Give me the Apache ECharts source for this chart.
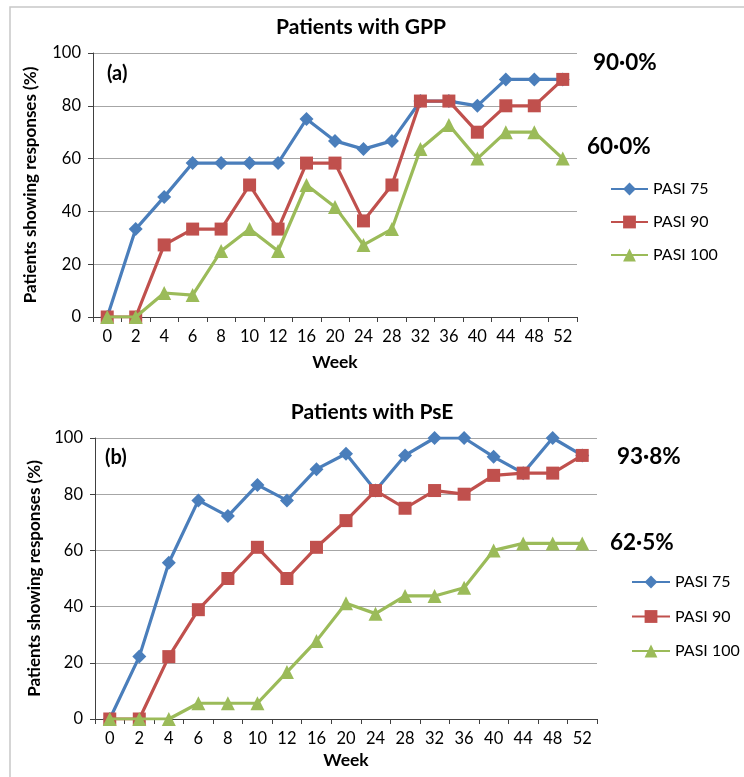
<!DOCTYPE html>
<html>
<head>
<meta charset="utf-8">
<script src="https://cdn.jsdelivr.net/npm/echarts@6/dist/echarts.min.js"></script>
<style>
html,body{margin:0;padding:0;background:#fff;}
#chart{width:744px;height:777px;}
</style>
</head>
<body>
<div id="chart"></div>
<script>
var weeks = ['0','2','4','6','8','10','12','16','20','24','28','32','36','40','44','48','52'];
var yTicks = [0, 20, 40, 60, 80, 100];
var seriesNames = ['PASI 75', 'PASI 90', 'PASI 100'];

var gppPasi75  = [0, 33.3, 45.5, 58.3, 58.3, 58.3, 58.3, 75, 66.7, 63.6, 66.7, 81.8, 81.8, 80, 90, 90, 90];
var gppPasi90  = [0, 0, 27.3, 33.3, 33.3, 50, 33.3, 58.3, 58.3, 36.4, 50, 81.8, 81.8, 70, 80, 80, 90];
var gppPasi100 = [0, 0, 9.1, 8.3, 25, 33.3, 25, 50, 41.7, 27.3, 33.3, 63.6, 72.7, 60, 70, 70, 60];

var psePasi75  = [0, 22.2, 55.6, 77.8, 72.2, 83.3, 77.8, 88.9, 94.4, 81.3, 93.8, 100, 100, 93.3, 87.5, 100, 93.8];
var psePasi90  = [0, 0, 22.2, 38.9, 50, 61.1, 50, 61.1, 70.6, 81.3, 75, 81.3, 80, 86.7, 87.5, 87.5, 93.8];
var psePasi100 = [0, 0, 0, 5.6, 5.6, 5.6, 16.7, 27.8, 41.2, 37.5, 43.8, 43.8, 46.7, 60, 62.5, 62.5, 62.5];

var titles = ['Patients with GPP', 'Patients with PsE'];
var panelLabels = ['(a)', '(b)'];
var annotations = [['90·0%', '60·0%'], ['93·8%', '62·5%']];
var xName = 'Week';
var yName = 'Patients showing responses (%)';

var FONT = 'Lato, "Open Sans", sans-serif';
var colors = ['#4A7EBB', '#C0504D', '#9BBB59'];
var symbols = ['diamond', 'rect', 'triangle'];
var symbolSizes = [14, 13, 14];

function makeX(gi, nameGap) {
  return {
    type: 'category', gridIndex: gi, data: weeks, boundaryGap: true,
    name: xName, nameLocation: 'middle', nameGap: nameGap,
    nameTextStyle: {fontFamily: FONT, fontSize: 17.5, fontWeight: 'bold', color: '#000'},
    axisLine: {show: true, lineStyle: {color: '#404040', width: 1}},
    axisTick: {show: true, interval: 0, alignWithLabel: false, length: 5, lineStyle: {color: '#404040'}},
    axisLabel: {interval: 0, margin: 11, fontFamily: FONT, fontSize: 16.5, color: '#000'},
    splitLine: {show: false}
  };
}
function makeY(gi, nameGap) {
  return {
    type: 'value', gridIndex: gi, min: yTicks[0], max: yTicks[yTicks.length - 1], interval: yTicks[1] - yTicks[0],
    name: yName, nameLocation: 'middle', nameGap: nameGap, nameRotate: 90,
    nameTextStyle: {fontFamily: FONT, fontSize: 17, fontWeight: 'bold', color: '#000'},
    axisLine: {show: true, lineStyle: {color: '#404040', width: 1}},
    axisTick: {show: true, length: 5, lineStyle: {color: '#404040'}},
    axisLabel: {margin: 12, fontFamily: FONT, fontSize: 16.5, color: '#000'},
    splitLine: {show: true, lineStyle: {color: '#A6A6A6', width: 1}}
  };
}
function makeSeries(gi, arrays) {
  return arrays.map(function (arr, i) {
    return {
      name: seriesNames[i], type: 'line', xAxisIndex: gi, yAxisIndex: gi, data: arr,
      symbol: symbols[i], symbolSize: symbolSizes[i], showAllSymbol: true,
      lineStyle: {color: colors[i], width: 3.2},
      itemStyle: {color: colors[i]},
      z: 2 + i, animation: false
    };
  });
}

var chart = echarts.init(document.getElementById('chart'), null, {renderer: 'canvas'});
var option = {
  backgroundColor: '#fff',
  animation: false,
  color: colors,
  grid: [
    {left: 93, right: 167, top: 53, height: 264},
    {left: 95, right: 147, top: 438, height: 281}
  ],
  xAxis: [makeX(0, 36), makeX(1, 32)],
  yAxis: [makeY(0, 54), makeY(1, 46)],
  legend: [
    {orient: 'vertical', left: 605, top: 176, itemWidth: 37, itemHeight: 16, itemGap: 17,
      data: seriesNames, textStyle: {fontFamily: FONT, fontSize: 16, color: '#000'}, selectedMode: false},
    {orient: 'vertical', left: 626, top: 569, itemWidth: 38, itemHeight: 16, itemGap: 18.5,
      data: seriesNames, textStyle: {fontFamily: FONT, fontSize: 16, color: '#000'}, selectedMode: false}
  ],
  series: makeSeries(0, [gppPasi75, gppPasi90, gppPasi100]).concat(makeSeries(1, [psePasi75, psePasi90, psePasi100])),
  graphic: [
    {type: 'polyline', shape: {points: [[10, 777], [10, 7], [744, 7]]}, style: {stroke: '#C8C8C8', lineWidth: 1.5, fill: null}, silent: true},
    {type: 'text', x: 361, y: 27, style: {text: titles[0], align: 'center', verticalAlign: 'middle', font: 'bold 21px ' + FONT, fill: '#000'}},
    {type: 'text', x: 372, y: 412, style: {text: titles[1], align: 'center', verticalAlign: 'middle', font: 'bold 21px ' + FONT, fill: '#000'}},
    {type: 'text', x: 107, y: 74, style: {text: panelLabels[0], align: 'left', verticalAlign: 'middle', font: 'bold 20px ' + FONT, fill: '#000'}},
    {type: 'text', x: 105, y: 458, style: {text: panelLabels[1], align: 'left', verticalAlign: 'middle', font: 'bold 20px ' + FONT, fill: '#000'}},
    {type: 'text', x: 593, y: 63, style: {text: annotations[0][0], align: 'left', verticalAlign: 'middle', font: 'bold 22.5px ' + FONT, fill: '#000'}},
    {type: 'text', x: 587, y: 147, style: {text: annotations[0][1], align: 'left', verticalAlign: 'middle', font: 'bold 22.5px ' + FONT, fill: '#000'}},
    {type: 'text', x: 617, y: 457, style: {text: annotations[1][0], align: 'left', verticalAlign: 'middle', font: 'bold 22.5px ' + FONT, fill: '#000'}},
    {type: 'text', x: 610, y: 543, style: {text: annotations[1][1], align: 'left', verticalAlign: 'middle', font: 'bold 22.5px ' + FONT, fill: '#000'}}
  ]
};
chart.setOption(option);
</script>
</body>
</html>
